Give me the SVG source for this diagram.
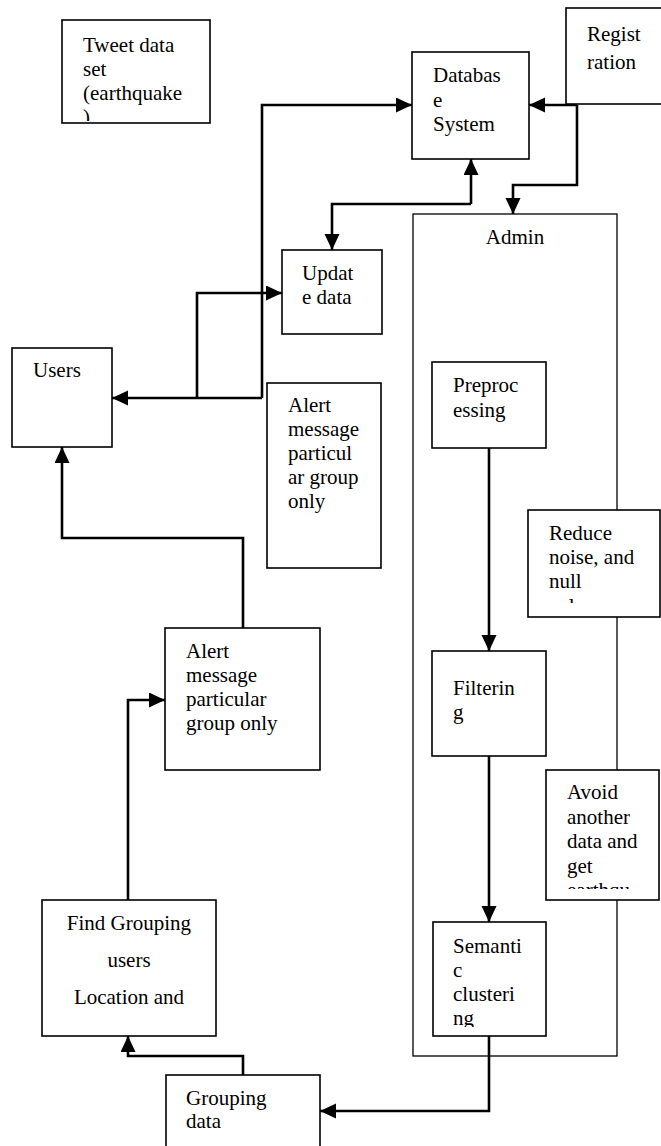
<svg xmlns="http://www.w3.org/2000/svg" width="661" height="1146" viewBox="0 0 661 1146">
<style>
.box{fill:#fff;stroke:#000;stroke-width:1.6}
.thin{fill:#fff;stroke:#000;stroke-width:1.3}
.t{font-family:"Liberation Serif","Times New Roman",serif;font-size:21px;fill:#000}
.c{fill:none;stroke:#000;stroke-width:2.6}
</style>
<defs>
<marker id="ah" markerUnits="userSpaceOnUse" markerWidth="16" markerHeight="16" refX="16" refY="7.5" orient="auto">
<path d="M0,0 L16,7.5 L0,15 z" fill="#000"/>
</marker>
<clipPath id="cTweet"><rect x="62" y="20" width="148" height="101"/></clipPath>
<clipPath id="cReduce"><rect x="528" y="510" width="133" height="93"/></clipPath>
<clipPath id="cAvoid"><rect x="546" y="770" width="113" height="119"/></clipPath>
<clipPath id="cSem"><rect x="433" y="922" width="113" height="105"/></clipPath>
</defs>

<g id="admin">
<rect class="thin" x="413" y="214" width="204" height="842"/>
<text class="t" x="515" y="244" text-anchor="middle">Admin</text>
</g>

<g id="connectors">
<path class="c" d="M262,398 V105 H412" marker-end="url(#ah)"/>
<path class="c" d="M262,398 H112" marker-end="url(#ah)"/>
<path class="c" d="M197,398 V293 H282" marker-end="url(#ah)"/>
<path class="c" d="M577,105 H529" marker-end="url(#ah)"/>
<path class="c" d="M577,105 V185 H513 V214" marker-end="url(#ah)"/>
<path class="c" d="M471,204 V159" marker-end="url(#ah)"/>
<path class="c" d="M471,204 H332 V250" marker-end="url(#ah)"/>
<path class="c" d="M243,628 V538 H62 V447" marker-end="url(#ah)"/>
<path class="c" d="M128,900 V700 H165" marker-end="url(#ah)"/>
<path class="c" d="M243,1075 V1056 H128 V1036" marker-end="url(#ah)"/>
<path class="c" d="M489,1036 V1111 H320" marker-end="url(#ah)"/>
<path class="c" d="M489,448 V651" marker-end="url(#ah)"/>
<path class="c" d="M489,756 V922" marker-end="url(#ah)"/>
</g>

<g id="tweet">
<rect class="box" x="62" y="20" width="148" height="103"/>
<g clip-path="url(#cTweet)">
<text class="t" x="83" y="52">Tweet data</text>
<text class="t" x="83" y="76">set</text>
<text class="t" x="83" y="100">(earthquake</text>
<text class="t" x="83" y="124">)</text>
</g>
</g>

<g id="database">
<rect class="box" x="412" y="52" width="117" height="107"/>
<text class="t" x="433" y="82">Databas</text>
<text class="t" x="433" y="107">e</text>
<text class="t" x="433" y="131">System</text>
</g>

<g id="registration">
<rect class="box" x="566" y="8" width="100" height="96"/>
<text class="t" x="587" y="41">Regist</text>
<text class="t" x="587" y="69">ration</text>
</g>

<g id="update">
<rect class="box" x="282" y="250" width="100" height="84"/>
<text class="t" x="302" y="280">Updat</text>
<text class="t" x="302" y="304">e data</text>
</g>

<g id="users">
<rect class="box" x="12" y="348" width="100" height="99"/>
<text class="t" x="33" y="377">Users</text>
</g>

<g id="alert1">
<rect class="box" x="267" y="383" width="114" height="185"/>
<text class="t" x="288" y="412">Alert</text>
<text class="t" x="288" y="436">message</text>
<text class="t" x="288" y="460">particul</text>
<text class="t" x="288" y="484">ar group</text>
<text class="t" x="288" y="508">only</text>
</g>

<g id="alert2">
<rect class="box" x="165" y="628" width="155" height="142"/>
<text class="t" x="186" y="658">Alert</text>
<text class="t" x="186" y="682">message</text>
<text class="t" x="186" y="706">particular</text>
<text class="t" x="186" y="730">group only</text>
</g>

<g id="preprocessing">
<rect class="box" x="432" y="362" width="114" height="86"/>
<text class="t" x="453" y="392">Preproc</text>
<text class="t" x="453" y="417">essing</text>
</g>

<g id="reduce">
<rect class="box" x="528" y="510" width="132" height="107"/>
<g clip-path="url(#cReduce)">
<text class="t" x="549" y="540">Reduce</text>
<text class="t" x="549" y="564">noise, and</text>
<text class="t" x="549" y="588">null</text>
<text class="t" x="549" y="613">values</text>
</g>
</g>

<g id="filtering">
<rect class="box" x="432" y="651" width="114" height="105"/>
<text class="t" x="453" y="695">Filterin</text>
<text class="t" x="453" y="719">g</text>
</g>

<g id="avoid">
<rect class="box" x="546" y="770" width="113" height="130"/>
<g clip-path="url(#cAvoid)">
<text class="t" x="567" y="799">Avoid</text>
<text class="t" x="567" y="824">another</text>
<text class="t" x="567" y="848">data and</text>
<text class="t" x="567" y="873">get</text>
<text class="t" x="567" y="897">earthqu</text>
</g>
</g>

<g id="semantic">
<rect class="box" x="433" y="922" width="113" height="114"/>
<g clip-path="url(#cSem)">
<text class="t" x="453" y="953">Semanti</text>
<text class="t" x="453" y="977">c</text>
<text class="t" x="453" y="1001">clusteri</text>
<text class="t" x="453" y="1025">ng</text>
</g>
</g>

<g id="findgrouping">
<rect class="box" x="42" y="900" width="174" height="136"/>
<text class="t" x="129" y="930" text-anchor="middle">Find Grouping</text>
<text class="t" x="129" y="967" text-anchor="middle">users</text>
<text class="t" x="129" y="1004" text-anchor="middle">Location and</text>
</g>

<g id="groupingdata">
<rect class="box" x="166" y="1075" width="154" height="80"/>
<text class="t" x="186" y="1105">Grouping</text>
<text class="t" x="186" y="1128">data</text>
</g>
</svg>
